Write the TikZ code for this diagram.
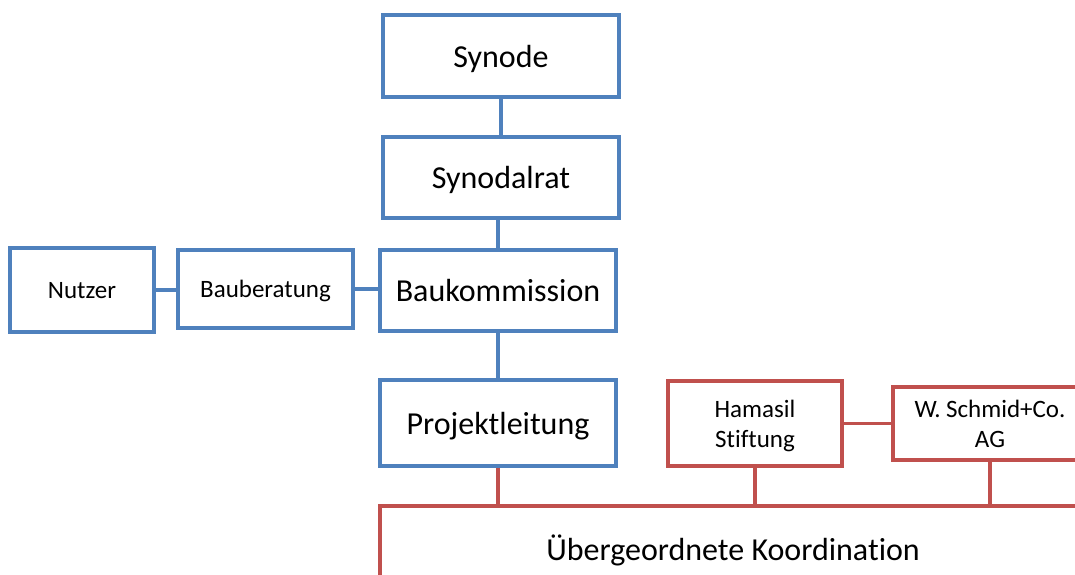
\documentclass[tikz,border=0pt]{standalone}
\usepackage{fontspec}
\setmainfont[Ligatures=NoCommon]{Carlito}
\definecolor{boxblue}{HTML}{4F81BD}
\definecolor{boxred}{HTML}{C0504D}
\tikzset{
  basebox/.style={rectangle, fill=white, line width=3.2pt, align=center, inner sep=0pt, text depth=0pt},
  bigbox/.style={basebox, draw=boxblue, font=\fontsize{32}{38}\selectfont},
  smallbox/.style={basebox, draw=boxblue, font=\fontsize{25}{30}\selectfont},
  redbox/.style={basebox, draw=boxred, font=\fontsize{25}{30}\selectfont},
  redbig/.style={basebox, draw=boxred, font=\fontsize{32}{38}\selectfont},
  blueline/.style={draw=boxblue, line width=3.2pt},
  redline/.style={draw=boxred, line width=3.2pt}
}
\begin{document}
\begin{tikzpicture}[x=1pt,y=-1pt]
\useasboundingbox (0,0) rectangle (1075,574);
\clip (0,0) rectangle (1075,574);
\fill[white] (0,0) rectangle (1075,574);
\node[bigbox, minimum width=236pt, minimum height=82pt] (synode) at (501,56) {Synode};
\node[bigbox, minimum width=236pt, minimum height=81pt] (synodalrat) at (501,177.5) {Synodalrat};
\node[bigbox, minimum width=236pt, minimum height=81pt] (baukom) at (498,290.5) {Baukommission};
\node[smallbox, minimum width=144pt, minimum height=84pt] (nutzer) at (82,290) {Nutzer};
\node[smallbox, minimum width=175pt, minimum height=78pt] (beratung) at (265.5,289) {Bauberatung};
\node[bigbox, minimum width=236pt, minimum height=86pt] (projekt) at (498,423) {Projektleitung};
\node[redbox, minimum width=174pt, minimum height=85pt] (hamasil) at (755,423.5) {Hamasil\\Stiftung};
\node[redbox, minimum width=194pt, minimum height=73pt] (schmid) at (990,423.5) {W. Schmid+Co.\\AG};
\node[redbig, minimum width=706pt, minimum height=84pt] (ueber) at (733,548) {Übergeordnete Koordination};
% connectors
\draw[blueline] (synode.south) -- (synode.south |- synodalrat.north);
\coordinate (bk) at ([xshift=-3pt]synodalrat.south);
\draw[blueline] (bk) -- (bk |- baukom.north);
\draw[blueline] (baukom.south) -- (baukom.south |- projekt.north);
\draw[blueline] (nutzer.east) -- (nutzer.east -| beratung.west);
\draw[blueline] (beratung.east) -- (beratung.east -| baukom.west);
\draw[redline] (hamasil.east) -- (hamasil.east -| schmid.west);
\draw[redline] (projekt.south) -- (projekt.south |- ueber.north);
\draw[redline] (hamasil.south) -- (hamasil.south |- ueber.north);
\draw[redline] (schmid.south) -- (schmid.south |- ueber.north);
\end{tikzpicture}
\end{document}
